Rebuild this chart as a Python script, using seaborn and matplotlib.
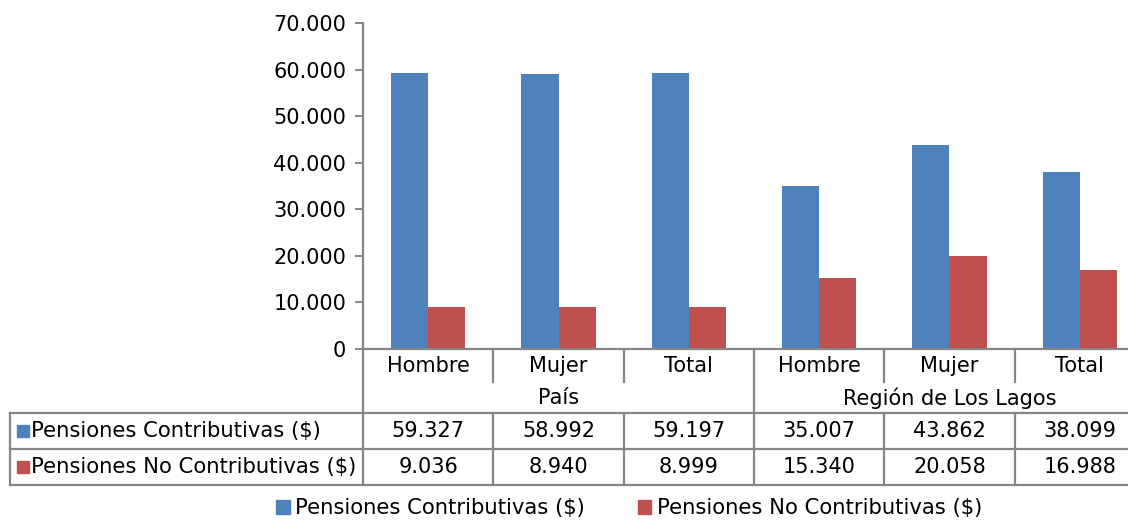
import pandas as pd
import seaborn as sns
import matplotlib.pyplot as plt
from matplotlib.patches import Patch

groups = ['País', 'País', 'País', 'Región de Los Lagos', 'Región de Los Lagos', 'Región de Los Lagos']
sexes = ['Hombre', 'Mujer', 'Total', 'Hombre', 'Mujer', 'Total']
series = ['Pensiones Contributivas ($)', 'Pensiones No Contributivas ($)']
contributivas = [59327, 58992, 59197, 35007, 43862, 38099]
no_contributivas = [9036, 8940, 8999, 15340, 20058, 16988]
colors = ['#4F81BD', '#C0504D']

keys = [f'{g} {s}' for g, s in zip(groups, sexes)]
df = pd.DataFrame({
    'key': keys * 2,
    'serie': [series[0]] * 6 + [series[1]] * 6,
    'valor': contributivas + no_contributivas,
})

def fmt(v):
    return f'{v:,.0f}'.replace(',', '.')

W, H = 1128, 521
plt.rcParams['font.family'] = ['DejaVu Sans']
fig = plt.figure(figsize=(W / 100, H / 100), dpi=100)
# axes spans slightly past the right edge, like the cropped original
left, right, top, bottom = 363, 1145, 23, 349
ax = fig.add_axes([left / W, 1 - bottom / H, (right - left) / W, (bottom - top) / H])

sns.barplot(data=df, x='key', y='valor', hue='serie', order=keys, hue_order=series,
            palette=colors, width=0.57, saturation=1, legend=False, ax=ax)

ax.set_xlim(-0.5, 5.5)
ax.set_ylim(0, 70000)
yt = list(range(0, 70001, 10000))
ax.set_yticks(yt, labels=[fmt(v) for v in yt])
ax.set_xticks([])
ax.set_xlabel('')
ax.set_ylabel('')
for s in ['top', 'right', 'bottom']:
    ax.spines[s].set_visible(False)
gray = '#868686'
ax.spines['left'].set_color(gray)
ax.spines['left'].set_linewidth(1.6)
ax.tick_params(axis='y', colors=gray, labelcolor='black', labelsize=15, length=6, width=1.4, pad=6)

# table below the axis, pixel rows converted to axes fraction
def ypx(p):
    return (bottom - p) / (bottom - top)

def xpx(p):
    return -0.5 + (p - left) / ((right - left) / 6)

tr = ax.get_xaxis_transform()
lw = 1.6
kw = dict(color=gray, lw=lw, transform=tr, clip_on=False)
x_tab = xpx(10)
ax.plot([-0.5, 5.5], [0, 0], **kw)
for yy in [413, 449, 485]:
    ax.plot([x_tab, 5.5], [ypx(yy)] * 2, **kw)
ax.plot([x_tab, x_tab], [ypx(413), ypx(485)], **kw)
for b in [-0.5, 2.5]:
    ax.plot([b, b], [0, ypx(485)], **kw)
for b in [0.5, 1.5, 3.5, 4.5]:
    ax.plot([b, b], [0, ypx(382)], **kw)
    ax.plot([b, b], [ypx(413), ypx(485)], **kw)

fs = 15
fl = 15.2
for i, s in enumerate(sexes):
    ax.text(i, ypx(366), s, ha='center', va='center', fontsize=fs, transform=tr)
ax.text(1, ypx(398), 'País', ha='center', va='center', fontsize=fs, transform=tr)
ax.text(4, ypx(398), 'Región de Los Lagos', ha='center', va='center', fontsize=fs, transform=tr)
for row, vals, yy in [(0, contributivas, 431), (1, no_contributivas, 467)]:
    for i, v in enumerate(vals):
        ax.text(i, ypx(yy), fmt(v), ha='center', va='center', fontsize=fs, transform=tr)
    ax.text(xpx(31), ypx(yy), series[row], ha='left', va='center', fontsize=fl, transform=tr)
    ax.add_patch(plt.Rectangle((xpx(17), ypx(yy) - 5.5 / (bottom - top)), 12 / 130.33, 12 / (bottom - top),
                               color=colors[row], transform=tr, clip_on=False))

handles = [Patch(color=c, label=s) for c, s in zip(colors, series)]
fig.legend(handles=handles, loc='center', bbox_to_anchor=(629 / W, 1 - 508 / H), ncol=2,
           frameon=False, fontsize=fl, handlelength=0.65, handleheight=0.65,
           handletextpad=0.25, columnspacing=2.5)

fig.savefig('out.png', dpi=100)
